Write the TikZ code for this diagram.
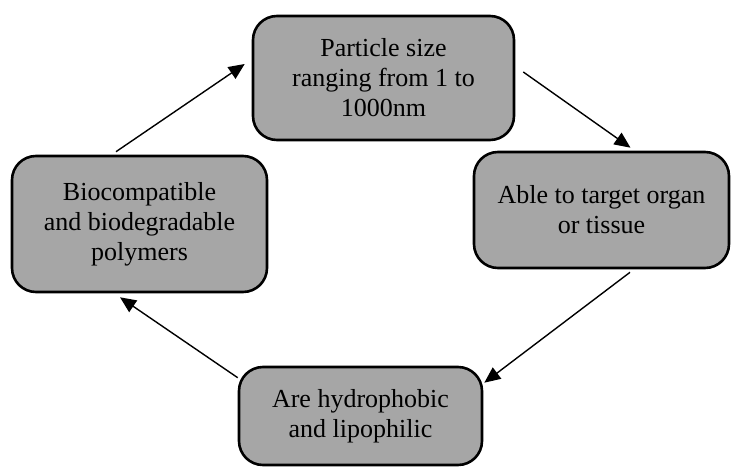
\documentclass[tikz,border=0pt]{standalone}
\usepackage{fontspec}
\setmainfont{Liberation Serif}
\usetikzlibrary{arrows.meta,calc}
\definecolor{boxgray}{HTML}{A6A6A6}
\tikzset{
  cbox/.style={draw=black, line width=2.6pt, fill=boxgray, rounded corners=24pt,
    align=center, inner sep=0pt, font=\fontsize{26}{30}\selectfont, text=black},
  flow/.style={draw=black, line width=1.4pt, -{Triangle[length=16pt,width=14pt]}, shorten >=0pt}
}
\begin{document}
\begin{tikzpicture}[x=1pt,y=-1pt]
\useasboundingbox (0,0) rectangle (731,466);
\node[cbox, minimum width=261pt, minimum height=124pt] (top) at (383.5,78) {Particle size\\ranging from 1 to\\1000nm};
\node[cbox, minimum width=255pt, minimum height=116pt] (right) at (601.5,210) {Able to target organ\\or tissue};
\node[cbox, minimum width=255pt, minimum height=136pt] (left) at (139.5,224) {Biocompatible\\and biodegradable\\polymers};
\node[cbox, minimum width=243pt, minimum height=98pt] (bottom) at (360.5,416) {Are hydrophobic\\and lipophilic};
\draw[flow] ($(top.east)+(8,-6)$) -- ($(right.north)+(29,-3)$);
\draw[flow] ($(right.south)+(28.5,3)$) -- ($(bottom.north east)+(1,17)$);
\draw[flow] ($(bottom.north west)+(0,12)$) -- ($(left.south)+(-19.5,4)$);
\draw[flow] ($(left.north)+(-23.5,-3)$) -- ($(top.west)+(-7,-14)$);
\end{tikzpicture}
\end{document}
